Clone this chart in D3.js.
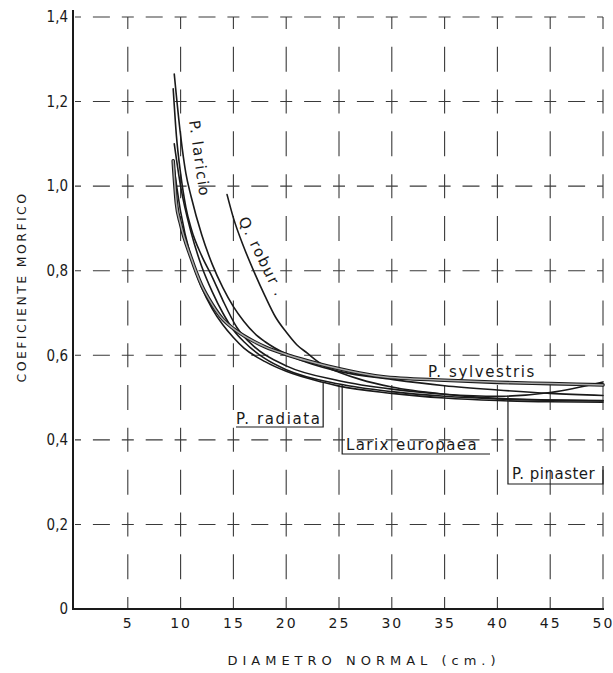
<!DOCTYPE html>
<html>
<head>
<meta charset="utf-8">
<script src="https://cdn.jsdelivr.net/npm/d3@7"></script>
<style>
  html, body { margin: 0; padding: 0; background: #fff; }
  svg { display: block; }
</style>
</head>
<body>
<svg id="chart" width="613" height="673"></svg>
<script>
// ---- data ----
const xTicks = [5, 10, 15, 20, 25, 30, 35, 40, 45, 50];
const yTicks = [0, 0.2, 0.4, 0.6, 0.8, 1.0, 1.2, 1.4];
const yTickLabels = ["0", "0,2", "0,4", "0,6", "0,8", "1,0", "1,2", "1,4"];
const xTitle = "DIAMETRO NORMAL (cm.)";
const yTitle = "COEFICIENTE MORFICO";

// diameter (cm), coefficient
const pLaricio = [[9.4,1.265],[10,1.12],[10.5,1.03],[11,0.975],[12,0.885],[13,0.815],[14,0.76],[15,0.715],[16,0.68],[17,0.652],[18,0.632],[20,0.603],[22,0.583],[25,0.562],[30,0.543],[35,0.528],[40,0.518],[45,0.51],[50,0.505]];
const qRobur = [[14.4,0.98],[15,0.925],[16,0.855],[17,0.795],[18,0.74],[19,0.69],[20,0.655],[21,0.625],[22,0.605],[23,0.585],[24,0.57],[25,0.56],[27,0.543],[30,0.525],[35,0.508],[40,0.498],[45,0.494],[50,0.492]];
const pSylvestris = [[9.3,1.06],[9.6,0.96],[10,0.91],[11,0.83],[12,0.765],[13,0.72],[14,0.685],[15,0.663],[16,0.646],[17,0.632],[18,0.62],[20,0.602],[22,0.587],[24,0.574],[26,0.563],[29,0.55],[35,0.541],[40,0.536],[45,0.533],[50,0.53]];
const pPinaster = [[9.3,1.23],[9.6,1.12],[10,1.03],[10.5,0.95],[11,0.90],[12,0.835],[13,0.785],[14,0.73],[15.3,0.667],[17,0.62],[20,0.575],[25,0.54],[30,0.52],[35,0.508],[40,0.503],[45,0.512],[50,0.537]];
const larixEuropaea = [[9.4,1.10],[10,1.0],[11,0.89],[12,0.81],[13,0.75],[14,0.70],[15,0.66],[16,0.632],[18,0.592],[20,0.566],[25,0.532],[30,0.514],[35,0.503],[40,0.497],[45,0.494],[50,0.493]];
const pRadiata = [[9.4,1.04],[10,0.94],[11,0.83],[12,0.76],[13,0.71],[14,0.672],[15,0.642],[16,0.617],[18,0.585],[20,0.562],[23.5,0.536],[25,0.527],[30,0.51],[35,0.499],[40,0.493],[45,0.49],[50,0.489]];

// ---- layout ----
const svg = d3.select("#chart");
const x = d3.scaleLinear().domain([0, 50]).range([75, 603]);
const y = d3.scaleLinear().domain([0, 1.4]).range([609, 17]);
const ink = "#1a1a1a";
const gridInk = "#3a3a3a";

// ---- grid: dashed lines with crosses at intersections ----
const stepX = x(5) - x(0);
const stepY = y(0) - y(0.2);
const hArm = 6, hDash = 17, hGap = (stepX - 2 * hArm - hDash) / 2;
const vArm = 12, vDash = 25, vGap = (stepY - 2 * vArm - vDash) / 2;

const grid = svg.append("g").attr("stroke", gridInk).attr("stroke-width", 1.1).attr("fill", "none");
grid.selectAll("line.h").data(yTicks.filter(d => d > 0)).join("line")
  .attr("class", "h")
  .attr("x1", x(0)).attr("x2", x(50))
  .attr("y1", d => y(d)).attr("y2", d => y(d))
  .attr("stroke-dasharray", [hArm, hGap, hDash, hGap, hArm, 0].join(","));
grid.selectAll("line.v").data(xTicks).join("line")
  .attr("class", "v")
  .attr("x1", d => x(d)).attr("x2", d => x(d))
  .attr("y1", y(0)).attr("y2", y(1.4))
  .attr("stroke-dasharray", [vArm, vGap, vDash, vGap, vArm, 0].join(","));

// ---- axes ----
const yAxis = d3.axisLeft(y).tickValues(yTicks).tickSize(0).tickPadding(4)
  .tickFormat((d, i) => yTickLabels[i]);
const gy = svg.append("g").attr("transform", `translate(${x(0) - 3},0)`).call(yAxis);
gy.select(".domain").remove();
gy.selectAll("text")
  .attr("font-family", "'Liberation Sans Narrow', 'DejaVu Sans Condensed', sans-serif")
  .attr("font-size", 15).attr("fill", ink);

const xAxis = d3.axisBottom(x).tickValues(xTicks).tickSize(0).tickPadding(9);
const gx = svg.append("g").attr("transform", `translate(0,${y(0)})`).call(xAxis);
gx.select(".domain").remove();
gx.selectAll("text")
  .attr("font-family", "'DejaVu Sans', sans-serif")
  .attr("font-size", 14).attr("letter-spacing", 2).attr("fill", ink);

svg.append("line").attr("x1", x(0) - 2).attr("x2", x(0) - 2).attr("y1", y(0) + 1).attr("y2", 10)
  .attr("stroke", ink).attr("stroke-width", 2);
svg.append("line").attr("x1", x(0) - 2).attr("x2", x(50) + 1).attr("y1", y(0)).attr("y2", y(0))
  .attr("stroke", ink).attr("stroke-width", 2);

// ---- titles ----
svg.append("text").attr("x", 364).attr("y", 665).attr("text-anchor", "middle")
  .attr("font-family", "'DejaVu Sans', sans-serif").attr("font-size", 13)
  .attr("letter-spacing", 5).attr("fill", ink).text(xTitle);
svg.append("text").attr("transform", "translate(26,287) rotate(-90)").attr("text-anchor", "middle")
  .attr("font-family", "'DejaVu Sans', sans-serif").attr("font-size", 12.5)
  .attr("letter-spacing", 2.4).attr("fill", ink).text(yTitle);

// ---- curves ----
const line = d3.line().x(d => x(d[0])).y(d => y(d[1])).curve(d3.curveMonotoneX);
const curves = svg.append("g").attr("fill", "none").attr("stroke-linecap", "round");
[pLaricio, qRobur, pPinaster, larixEuropaea, pRadiata].forEach(s => {
  curves.append("path").attr("d", line(s)).attr("stroke", ink).attr("stroke-width", 1.6);
});
curves.append("path").attr("d", line(pSylvestris)).attr("stroke", ink).attr("stroke-width", 3.6);
curves.append("path").attr("d", line(pSylvestris)).attr("stroke", "#a8a8a8").attr("stroke-width", 1.5);

// ---- labels ----
const lab = svg.append("g").attr("font-family", "'DejaVu Sans', sans-serif")
  .attr("font-size", 15).attr("fill", ink).attr("letter-spacing", 1.6);
lab.append("text").attr("transform", "translate(189,121) rotate(82)").text("P. laricio");
lab.append("text").attr("transform", "translate(238,220) rotate(64)").text("Q. robur .");
lab.append("text").attr("x", 428).attr("y", 377).text("P. sylvestris");
lab.append("text").attr("x", 236).attr("y", 424).text("P. radiata");
lab.append("text").attr("x", 346).attr("y", 450).attr("letter-spacing", 1.4).text("Larix  europaea");
lab.append("text").attr("x", 512).attr("y", 479).attr("letter-spacing", 0.5).text("P. pinaster");

// label leaders (boxes)
const lead = svg.append("g").attr("fill", "none").attr("stroke", ink).attr("stroke-width", 1.2);
const rdx = 23.5, lxd = 25.3, pnd = 41;
const interp = (s, d) => {
  for (let i = 1; i < s.length; i++) if (s[i][0] >= d) {
    const t = (d - s[i-1][0]) / (s[i][0] - s[i-1][0]);
    return s[i-1][1] + t * (s[i][1] - s[i-1][1]);
  }
  return s[s.length-1][1];
};
lead.append("path").attr("d", `M236,427 H${x(rdx)} V${y(interp(pRadiata, rdx))}`);
lead.append("path").attr("d", `M${x(lxd)},${y(interp(larixEuropaea, lxd))} V454 H490`);
lead.append("path").attr("d", `M${x(pnd)},${y(interp(pPinaster, pnd))} V484 H603 V466`);
</script>
</body>
</html>
